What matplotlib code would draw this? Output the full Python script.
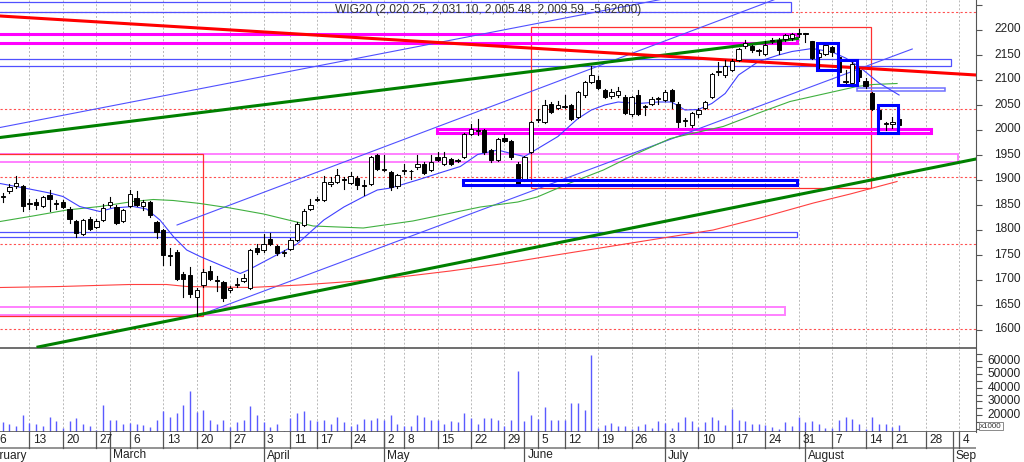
import numpy as np
import pandas as pd
import matplotlib
matplotlib.use('Agg')
import matplotlib.pyplot as plt
import matplotlib.transforms as mtrans
from matplotlib.patches import Rectangle

plt.rcParams['font.family'] = ['Liberation Sans', 'DejaVu Sans']

# GPW trading days 2023, position 0 = 6 Feb
holidays = pd.to_datetime(['2023-04-07', '2023-04-10', '2023-05-01',
                           '2023-05-03', '2023-06-08', '2023-08-15'])
days = pd.bdate_range('2023-02-01', '2023-09-08')
days = days[~days.isin(holidays)]
pos = np.arange(len(days)) - 3

month_names = ['February', 'March', 'April', 'May', 'June', 'July', 'August', 'September']

# candles from 7 Feb (pos 1) to 22 Aug (pos 135)
opens = [1866, 1877, 1887, 1888, 1852, 1856, 1847, 1870, 1853, 1856,
         1842, 1818, 1792, 1822, 1806, 1819, 1849, 1845, 1818, 1847,
         1864, 1847, 1855, 1816, 1800, 1750, 1756, 1712, 1709, 1666,
         1689, 1718, 1700, 1696, 1679, 1690, 1698, 1684, 1764, 1759,
         1782, 1767, 1753, 1762, 1780, 1809, 1842, 1860, 1860, 1891,
         1896, 1901, 1894, 1904, 1890, 1891, 1950, 1919, 1915, 1887,
         1917, 1917, 1926, 1932, 1920, 1946, 1932, 1941, 1938, 1946,
         1992, 1998, 1999, 1960, 1939, 1984, 1978, 1932, 1899, 1956,
         2019, 2016, 2052, 2044, 2046, 2049, 2026, 2069, 2096, 2100,
         2079, 2067, 2069, 2066, 2032, 2069, 2045, 2052, 2061, 2060,
         2079, 2052, 2018, 2009, 2032, 2044, 2066, 2115, 2109, 2120,
         2139, 2167, 2167, 2157, 2152, 2178, 2180, 2182, 2184, 2191,
         2193, 2177, 2146, 2152, 2165, 2146, 2095, 2094, 2120, 2097,
         2074, 2040, 2011, 2011, 2020.25]
highs = [1873, 1891, 1907, 1890, 1861, 1862, 1868, 1879, 1860, 1860,
         1845, 1820, 1821, 1825, 1822, 1852, 1866, 1850, 1841, 1879,
         1878, 1860, 1858, 1818, 1802, 1764, 1760, 1716, 1725, 1684,
         1721, 1727, 1707, 1698, 1688, 1704, 1712, 1762, 1772, 1791,
         1794, 1770, 1760, 1784, 1815, 1842, 1862, 1866, 1908, 1906,
         1922, 1906, 1916, 1908, 1899, 1948, 1952, 1949, 1918, 1912,
         1932, 1920, 1949, 1936, 1949, 1956, 1956, 1944, 1942, 1994,
         2012, 2022, 2002, 1962, 1984, 1992, 1980, 1936, 1948, 2018,
         2042, 2059, 2055, 2058, 2069, 2052, 2078, 2098, 2127, 2108,
         2081, 2082, 2086, 2070, 2068, 2080, 2050, 2066, 2066, 2080,
         2081, 2055, 2024, 2036, 2043, 2058, 2114, 2136, 2139, 2142,
         2164, 2180, 2170, 2162, 2178, 2184, 2184, 2192, 2194, 2202,
         2194, 2178, 2160, 2172, 2168, 2148, 2119, 2138, 2124, 2104,
         2076, 2044, 2016, 2026, 2031.10]
lows = [1855, 1874, 1884, 1838, 1841, 1842, 1845, 1838, 1842, 1843,
        1813, 1786, 1790, 1800, 1804, 1817, 1845, 1811, 1816, 1845,
        1848, 1840, 1826, 1783, 1729, 1729, 1700, 1666, 1666, 1628,
        1686, 1700, 1678, 1658, 1676, 1686, 1696, 1682, 1752, 1756,
        1769, 1750, 1748, 1760, 1778, 1807, 1840, 1857, 1858, 1888,
        1893, 1882, 1892, 1882, 1869, 1889, 1920, 1918, 1879, 1884,
        1912, 1902, 1922, 1912, 1918, 1938, 1930, 1929, 1936, 1944,
        1990, 1989, 1952, 1936, 1937, 1976, 1942, 1889, 1897, 1954,
        2016, 2014, 2034, 2042, 2044, 2020, 2024, 2066, 2094, 2082,
        2064, 2064, 2066, 2032, 2028, 2030, 2030, 2050, 2052, 2058,
        2044, 2006, 2008, 2006, 2026, 2042, 2064, 2109, 2106, 2117,
        2137, 2164, 2156, 2150, 2150, 2174, 2152, 2178, 2180, 2186,
        2176, 2142, 2124, 2150, 2148, 2112, 2092, 2092, 2098, 2084,
        2040, 2020, 2000, 2004, 2005.48]
closes = [1868, 1885, 1893, 1847, 1854, 1850, 1866, 1862, 1851, 1846,
          1822, 1794, 1819, 1802, 1817, 1844, 1856, 1813, 1839, 1872,
          1850, 1856, 1829, 1796, 1749, 1748, 1702, 1702, 1672, 1680,
          1716, 1702, 1698, 1664, 1684, 1692, 1704, 1759, 1756, 1772,
          1771, 1754, 1755, 1780, 1812, 1838, 1850, 1862, 1896, 1896,
          1909, 1899, 1907, 1889, 1888, 1946, 1922, 1921, 1886, 1909,
          1919, 1918, 1931, 1914, 1935, 1940, 1946, 1932, 1940, 1992,
          2002, 2000, 1956, 1939, 1982, 1978, 1946, 1892, 1946, 2016,
          2021, 2049, 2036, 2050, 2048, 2022, 2076, 2096, 2109, 2084,
          2066, 2076, 2078, 2034, 2066, 2032, 2047, 2062, 2063, 2076,
          2058, 2016, 2020, 2034, 2040, 2056, 2112, 2117, 2127, 2138,
          2162, 2174, 2159, 2159, 2169, 2180, 2160, 2189, 2191, 2193,
          2191, 2144, 2154, 2169, 2155, 2116, 2097, 2132, 2106, 2087,
          2042, 2022, 2013, 2016, 2009.59]
# volume in thousands
volume = [14800, 13600, 12100, 20200, 14100, 13400, 11700, 18500, 15300, 10400,
          15300, 18000, 13600, 11700, 9200, 27400, 16600, 16600, 13400, 14100,
          13400, 12900, 11200, 16600, 23200, 18800, 21500, 27600, 37400, 22000,
          23900, 16600, 13600, 16600, 11200, 14800, 16600, 26900, 19800, 14800,
          11200, 13400, 8500, 17800, 21500, 22700, 16600, 15300, 16600, 13600,
          18300, 14800, 11700, 13600, 17300, 16300, 18000, 16100, 19800, 13400,
          12100, 11700, 20200, 18300, 16600, 16600, 13400, 15300, 14800, 21500,
          17800, 13600, 17800, 17800, 16600, 12000, 16100, 52600, 15300, 20200,
          17100, 25900, 16600, 16600, 16600, 28800, 28800, 23900, 63900, 10400,
          12900, 14100, 11700, 12100, 9900, 12100, 13400, 10400, 15800, 14100,
          10400, 14800, 18500, 15300, 11200, 14800, 18500, 16600, 12900, 24700,
          16600, 15300, 13400, 13400, 12900, 11200, 9900, 14800, 11700, 18300,
          14800, 15300, 13400, 10400, 10400, 16600, 18300, 17300, 13600, 9700,
          18500, 13600, 13600, 11200, 12900]

# moving averages (position, value)
blue_ma_x = [0.6, 5, 8, 10, 12.5, 15.5, 17.5, 20.5, 22.5, 24.5, 26.5, 28.5, 30.5, 33.5,
             36.5, 37.7, 42.5, 45, 49, 52, 55, 57, 59, 63, 67, 69.4, 72, 75, 77, 79, 81,
             84, 87, 89, 91, 93, 96, 99, 101, 103, 105, 107, 109, 111, 114, 117, 119,
             121, 122, 125, 127, 129, 132, 135]
blue_ma_y = [1892, 1881, 1873, 1866, 1846, 1836, 1843, 1846, 1841, 1819, 1786, 1759, 1746, 1729,
             1712, 1719, 1753, 1771, 1819, 1845, 1866, 1879, 1883, 1899, 1916, 1926, 1950, 1959,
             1952, 1946, 1962, 1986, 2022, 2039, 2049, 2055, 2052, 2055, 2055, 2039, 2040, 2052,
             2072, 2109, 2136, 2149, 2156, 2160, 2162, 2155, 2143, 2126, 2093, 2069]
green_ma_x = [0.6, 5.5, 10.6, 15.5, 20.5, 23.5, 26.5, 30.5, 35, 40, 47.4, 54.9, 62.3, 72.4,
              78, 80.9, 85.8, 90.8, 95.8, 100.8, 105.7, 108.7, 113.8, 118.7, 123.7, 128.7, 131.1, 134.7]
green_ma_y = [1816, 1827, 1839, 1846, 1856, 1860, 1858, 1852, 1843, 1831, 1807, 1803, 1817, 1845,
              1855, 1865, 1893, 1919, 1952, 1982, 1997, 2006, 2032, 2056, 2071, 2086, 2090, 2092]
red_ma_x = [0.6, 9.6, 20, 25.5, 28.5, 38, 45.5, 53, 60.4, 67.9, 75.4, 82.8, 90.3, 97.8,
            107.2, 114.2, 122.2, 127.7, 134.7]
red_ma_y = [1684, 1686, 1690, 1690, 1686, 1684, 1689, 1696, 1705, 1717, 1731, 1747, 1763, 1779,
            1799, 1823, 1853, 1871, 1896]

# drawn studies: trend lines (x0, x1, y0, y1)
thick_red = [(0.59, 146.5, 2227, 2109)]
thick_green = [(0.59, 119.8, 1984, 2182), (6.27, 146.5, 1565, 1941)]
thin_blue = [(0.59, 104, 2004, 2272), (27.06, 118, 1809, 2268), (30.05, 136.97, 1627, 2161)]
# rectangles (x0, x1, y0, y1)
rect_thin_blue = [(-5, 118.9, 2235, 2255.6), (-5, 142.8, 2127.6, 2140.4), (-5, 119.8, 1784.4, 1795.6)]
rect_magenta = [(-5, 119.8, 2173, 2192), (65.9, 139.8, 1993.6, 2002)]
rect_pink = [(-5, 143.8, 1935.6, 1951), (-5, 118, 1629, 1645.6)]
rect_blue = [(69.8, 119.8, 1889, 1899), (122.8, 125.8, 2120, 2173),
             (125.8, 128.7, 2089, 2140), (131.85, 134.83, 1994, 2049)]
rect_lblue = [(128.7, 141.8, 2077.6, 2082.4)]
rect_red = [(80, 130.8, 1883, 2204.4), (-5, 30.95, 1627, 1951)]
red_levels = [2235.6, 2041.6, 1905.6, 1771, 1600.4]

price_ticks = list(range(1600, 2251, 50))
price_labels = list(range(1600, 2201, 50))
vol_ticks = list(range(10000, 65001, 5000))
vol_labels = [20000, 30000, 40000, 50000, 60000]

W, H = 1024, 462


def box(x0, y0, x1, y1):
    return [x0 / W, 1 - y1 / H, (x1 - x0) / W, (y1 - y0) / H]


fig = plt.figure(figsize=(W / 100, H / 100), dpi=100)
ax = fig.add_axes(box(0, 0, 976, 348))
axv = fig.add_axes(box(0, 349, 976, 432))
axd = fig.add_axes(box(0, 432, 976, 462))
xlim = (0.59, 146.5)
for a in (ax, axv, axd):
    a.set_xlim(*xlim)
    a.set_xticks([])
ax.set_ylim(1563, 2259)
axv.set_ylim(7478, 68616)
axd.set_ylim(0, 30)

week_pos = [p for k, p in enumerate(pos)
            if k == 0 or days[k].isocalendar()[1] != days[k - 1].isocalendar()[1]]
week_pos = [p for p in week_pos if p >= 0]
month_pos = [p for k, p in enumerate(pos) if k == 0 or days[k].month != days[k - 1].month]

# vertical grid
for p in week_pos:
    for a in (ax, axv):
        a.axvline(p, color='#b8b8b8', lw=0.7, ls=(0, (2, 2)), zorder=0)

for lv in red_levels:
    ax.axhline(lv, color='#ff5050', lw=0.8, ls=(0, (2, 2)), zorder=1)


def rects(a, items, color, lw, z=2):
    for x0, x1, y0, y1 in items:
        a.add_patch(Rectangle((x0, y0), x1 - x0, y1 - y0, fill=False,
                              edgecolor=color, lw=lw, zorder=z))


rects(ax, rect_thin_blue, '#5050ff', 0.9)
rects(ax, rect_pink, '#ff80ff', 1.4)
rects(ax, rect_red, '#ff3030', 0.9)
rects(ax, rect_lblue, '#7070ff', 1.1)
rects(ax, rect_magenta, '#ff00ff', 2.2)
rects(ax, rect_blue, '#0000ff', 2.2, z=6)

for x0, x1, y0, y1 in thin_blue:
    ax.plot([x0, x1], [y0, y1], color='#5050ff', lw=0.8, zorder=2)
ax.plot(red_ma_x, red_ma_y, color='#ff4040', lw=0.8, zorder=2)
ax.plot(green_ma_x, green_ma_y, color='#40b040', lw=0.8, zorder=2)
ax.plot(blue_ma_x, blue_ma_y, color='#4040ff', lw=0.8, zorder=2)
for x0, x1, y0, y1 in thick_green:
    ax.plot([x0, x1], [y0, y1], color='#008000', lw=2.2, zorder=3)
for x0, x1, y0, y1 in thick_red:
    ax.plot([x0, x1], [y0, y1], color='#ff0000', lw=2.2, zorder=3)

# candles
xs = np.arange(1, len(closes) + 1)
for xi, o, h, l, c in zip(xs, opens, highs, lows, closes):
    ax.plot([xi, xi], [l, h], color='black', lw=0.8, zorder=4)
    ax.add_patch(Rectangle((xi - 0.32, min(o, c)), 0.64, max(abs(c - o), 0.8),
                           facecolor='white' if c >= o else 'black',
                           edgecolor='black', lw=0.7, zorder=5))

axv.vlines(xs, 7478, volume, color='#5a5aff', lw=1.0, zorder=2)

# frames and right scales
for a in (ax, axv):
    for s in ('left', 'top'):
        a.spines[s].set_visible(False)
    a.spines['right'].set_color('#555555')
    a.spines['bottom'].set_color('#555555')
    a.spines['bottom'].set_linewidth(1.2)
    a.yaxis.set_ticks_position('right')
    a.tick_params(axis='y', direction='out', length=4, width=0.8, color='#555555',
                  labelright=False, labelleft=False)
for s in axd.spines.values():
    s.set_visible(False)
axd.set_yticks([])
ax.set_yticks(price_ticks)
axv.set_yticks(vol_ticks)

tr = mtrans.blended_transform_factory(ax.transAxes, ax.transData)
for v in price_labels:
    ax.text(1021 / 976, v, str(v), transform=tr, ha='right', va='center',
            fontsize=8.6, color='#222222', clip_on=False)
trv = mtrans.blended_transform_factory(axv.transAxes, axv.transData)
for v in vol_labels:
    axv.text(1021 / 976, v, str(v), transform=trv, ha='right', va='center',
             fontsize=8.6, color='#222222', clip_on=False)
axv.text(980 / 976, 0.03, 'x1000', transform=axv.transAxes, ha='left', va='bottom',
         fontsize=5.8, color='#333333', clip_on=False,
         bbox=dict(boxstyle='square,pad=0.12', facecolor='white', edgecolor='#777777', lw=0.6))

fig.text(488 / W, 1 - 10 / H, 'WIG20 (2,020.25, 2,031.10, 2,005.48, 2,009.59, -5.62000)',
         ha='center', va='center', fontsize=8.6, color='#333333')

# date scale
axd.axhline(14, color='#808080', lw=1.2)
for p in week_pos + [0]:
    axd.plot([p, p], [14, 30], color='#555555', lw=0.9)
for k, p in enumerate(pos):
    if p in week_pos or p == 0:
        axd.text(p + 0.5, 22, str(days[k].day), ha='left', va='center',
                 fontsize=8.6, color='#222222', clip_on=True)
for m, p in enumerate(month_pos):
    axd.plot([p, p], [0, 30], color='#555555', lw=0.9)
    axd.text(p + 0.45, 6.5, month_names[m], ha='left', va='center',
             fontsize=8.6, color='#222222', clip_on=True)

fig.savefig('out.png', dpi=100, facecolor='white')
